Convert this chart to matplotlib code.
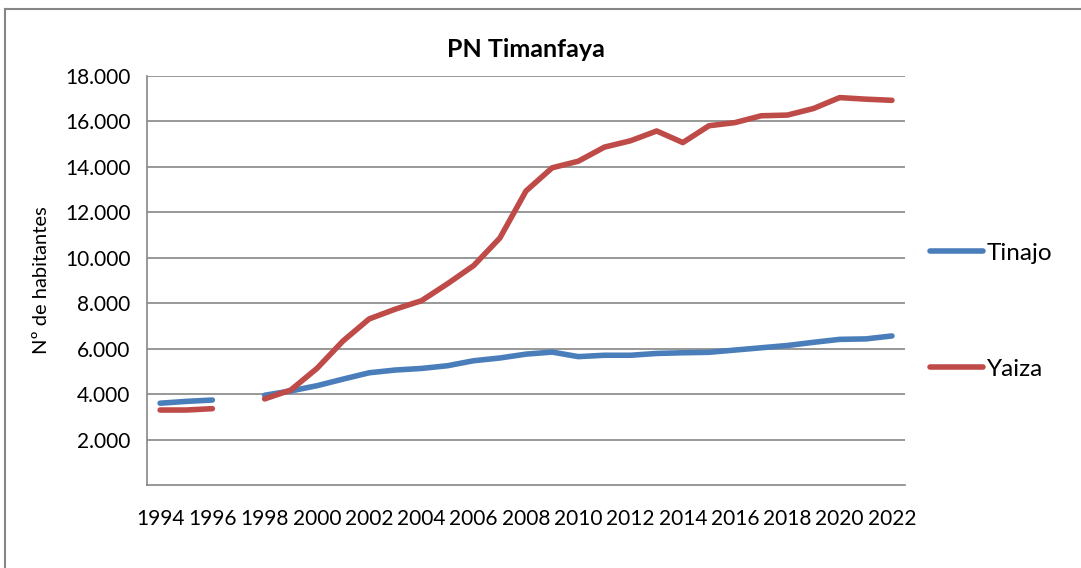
# Población de los municipios del PN Timanfaya (Tinajo y Yaiza), 1994-2022
import numpy as np
import matplotlib.pyplot as plt
from matplotlib.ticker import FuncFormatter
from matplotlib.lines import Line2D

plt.rcParams['font.family'] = ['Lato', 'DejaVu Sans']

# Datos (1997 sin dato -> nan, la línea queda cortada)
anios = list(range(1994, 2023))
tinajo = [3600, 3680, 3740, np.nan, 3950, 4140, 4370, 4660, 4940, 5060,
          5130, 5250, 5470, 5590, 5760, 5850, 5650, 5710, 5710, 5790,
          5820, 5840, 5940, 6040, 6140, 6280, 6410, 6430, 6560]
yaiza = [3300, 3300, 3360, np.nan, 3790, 4180, 5130, 6340, 7310, 7740,
         8110, 8860, 9660, 10870, 12940, 13960, 14250, 14870, 15150, 15580,
         15070, 15810, 15950, 16250, 16280, 16570, 17050, 16980, 16930]
series = ["Tinajo", "Yaiza"]
colores = ["#4A7EBB", "#BE4B48"]

fig = plt.figure(figsize=(10.81, 5.68), dpi=100)
ax = fig.add_axes([0.136, 0.1461, 0.7012, 0.7201])

x = np.arange(len(anios))
for nombre, valores, color in zip(series, [tinajo, yaiza], colores):
    ax.plot(x, valores, color=color, lw=4, solid_capstyle='round',
            solid_joinstyle='round', label=nombre)

# Ejes al estilo Excel
ax.set_xlim(-0.5, len(anios) - 0.5)
ax.set_ylim(0, 18000)
ax.set_yticks(range(2000, 18001, 2000))
ax.yaxis.set_major_formatter(FuncFormatter(lambda v, p: f"{int(v):,}".replace(",", ".")))
ax.set_xticks(x[::2])
ax.set_xticklabels([str(a) for a in anios[::2]])
ax.tick_params(length=0, labelsize=15)
ax.tick_params(axis='x', pad=17)
ax.tick_params(axis='y', pad=12)

ax.grid(axis='y', color='#868686', lw=1.2)
ax.set_axisbelow(True)
for lado in ['top', 'right']:
    ax.spines[lado].set_visible(False)
for lado in ['left', 'bottom']:
    ax.spines[lado].set_color('#868686')
    ax.spines[lado].set_linewidth(1.2)

ax.set_ylabel("Nº de habitantes", fontsize=14.5, labelpad=11)
ax.set_title("PN Timanfaya", fontsize=18, fontweight='bold', pad=14)

ax.legend(loc='center left', bbox_to_anchor=(0.860, 0.452),
          bbox_transform=fig.transFigure, frameon=False, fontsize=17.5,
          handlelength=2.2, handletextpad=0.15, labelspacing=3.9,
          borderpad=0, borderaxespad=0)

# Marco exterior del gráfico
fig.add_artist(Line2D([0.0046, 1.0], [0.984, 0.984], transform=fig.transFigure,
                      color='#868686', lw=1.5))
fig.add_artist(Line2D([0.0046, 0.0046], [0.0, 0.984], transform=fig.transFigure,
                      color='#868686', lw=1.5))

fig.savefig("out.png", dpi=100)
